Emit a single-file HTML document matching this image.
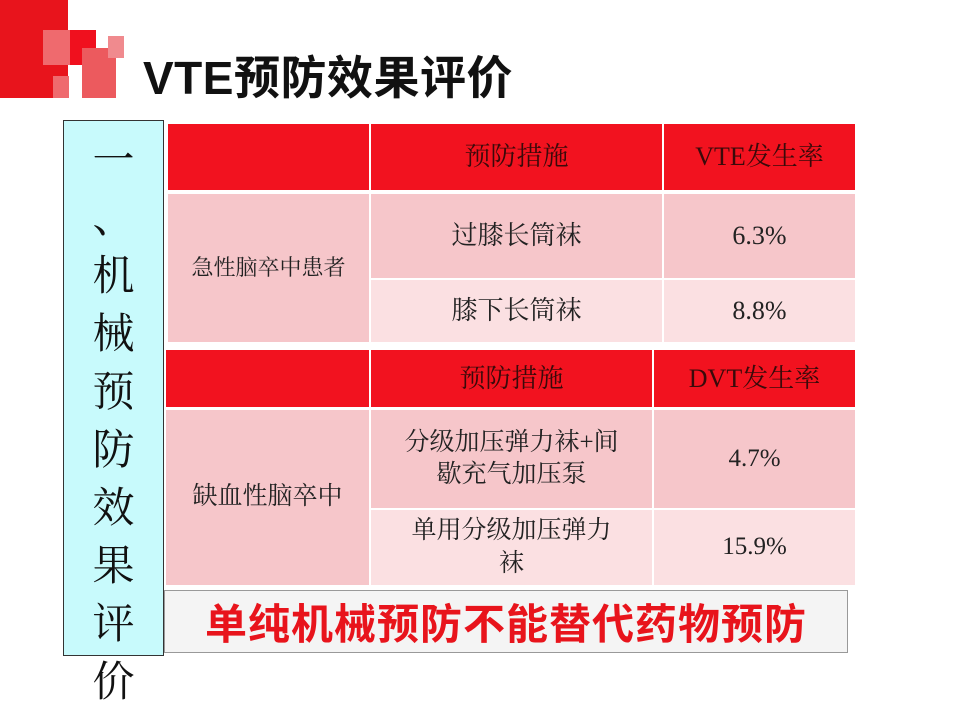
<!DOCTYPE html>
<html><head><meta charset="utf-8"><style>
body{margin:0;width:960px;height:720px;background:#fff;position:relative;overflow:hidden;font-family:"Liberation Serif","Noto Serif CJK SC",serif}
.a{position:absolute}
.c{position:absolute;display:flex;align-items:center;justify-content:center;text-align:center;color:#222;line-height:1.3}
.h{background:#f2121f;color:#3a0a0a;font-size:26px}
.p1{background:#f6c6ca}
.p2{background:#fbe0e2}
</style></head><body>
<div class="a" style="left:0;top:0;width:68px;height:98px;background:#e8141c"></div>
<div class="a" style="left:43px;top:30px;width:28px;height:35px;background:#ef6a6e"></div>
<div class="a" style="left:70px;top:30px;width:26px;height:35px;background:#f0101e"></div>
<div class="a" style="left:53px;top:76px;width:16px;height:22px;background:#ef6a6e"></div>
<div class="a" style="left:82px;top:48px;width:34px;height:50px;background:#ec5a5e"></div>
<div class="a" style="left:108px;top:36px;width:16px;height:22px;background:#f08a8e"></div>
<div class="a" style="left:143px;top:42px;font:bold 46px 'Liberation Sans','Noto Sans CJK SC',sans-serif;color:#111;letter-spacing:0.5px">VTE预防效果评价</div>

<div class="a" style="left:63px;top:120px;width:99px;height:534px;background:#c8fafc;border:1px solid #333"></div>
<div class="a" style="left:63px;top:132px;width:101px;text-align:center;font-size:42px;line-height:58px;color:#111">一<br>、<br>机<br>械<br>预<br>防<br>效<br>果<br>评<br>价</div>

<div class="c h" style="left:168px;top:124px;width:201px;height:66px"></div>
<div class="c h" style="left:371px;top:124px;width:291px;height:66px">预防措施</div>
<div class="c h" style="left:664px;top:124px;width:191px;height:66px">VTE发生率</div>
<div class="c p1" style="left:168px;top:194px;width:201px;height:148px;font-size:22px">急性脑卒中患者</div>
<div class="c p1" style="left:371px;top:194px;width:291px;height:84px;font-size:26px">过膝长筒袜</div>
<div class="c p1" style="left:664px;top:194px;width:191px;height:84px;font-size:26px">6.3%</div>
<div class="c p2" style="left:371px;top:280px;width:291px;height:62px;font-size:26px">膝下长筒袜</div>
<div class="c p2" style="left:664px;top:280px;width:191px;height:62px;font-size:26px">8.8%</div>

<div class="c h" style="left:166px;top:350px;width:203px;height:57px"></div>
<div class="c h" style="left:371px;top:350px;width:281px;height:57px">预防措施</div>
<div class="c h" style="left:654px;top:350px;width:201px;height:57px">DVT发生率</div>
<div class="c p1" style="left:166px;top:410px;width:203px;height:175px;font-size:25px">缺血性脑卒中</div>
<div class="c p1" style="left:371px;top:410px;width:281px;height:98px;font-size:25px">分级加压弹力袜+间<br>歇充气加压泵</div>
<div class="c p1" style="left:654px;top:410px;width:201px;height:98px;font-size:25px">4.7%</div>
<div class="c p2" style="left:371px;top:510px;width:281px;height:75px;font-size:25px">单用分级加压弹力<br>袜</div>
<div class="c p2" style="left:654px;top:510px;width:201px;height:75px;font-size:25px">15.9%</div>

<div class="c" style="left:164px;top:590px;width:682px;height:61px;border:1px solid #999;background:#f4f4f4;color:#e8141c;font:bold 42px 'Liberation Sans','Noto Sans CJK SC',sans-serif;letter-spacing:1px">单纯机械预防不能替代药物预防</div>
</body></html>
